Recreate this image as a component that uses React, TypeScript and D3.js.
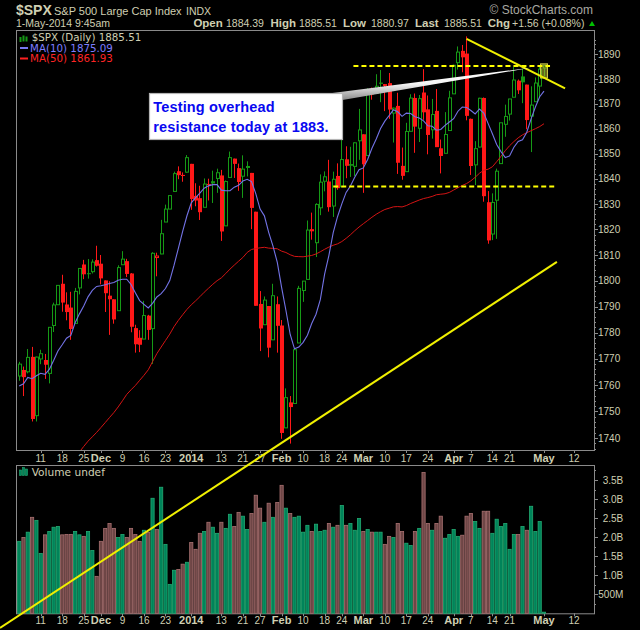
import React from 'react';
import * as d3 from 'd3';

const width = 640;
const height = 630;
const frame = { left: 16, right: 594, priceTop: 30, priceBottom: 450, volTop: 465, volBottom: 613.3 };

const sans = '"Liberation Sans", Arial, sans-serif';
const legendFont = '"DejaVu Sans", Verdana, sans-serif';
const textColor = '#cfcfb2';
const green = '#169a16';
const red = '#ff1818';

// closes before the visible window, only used to seed the moving averages
const priorCloses = [
  1656.78, 1630.48, 1634.96, 1638.17, 1632.97,
  1639.77, 1653.08, 1655.08, 1655.17, 1671.71, 1683.99, 1689.13, 1683.42, 1687.99, 1697.6,
  1704.76, 1725.52, 1722.34, 1709.91, 1701.84, 1697.42, 1692.77, 1698.67, 1691.75, 1681.55,
  1695.0, 1693.87, 1678.66, 1690.5, 1676.12, 1655.45, 1656.4, 1692.56, 1703.2, 1710.14, 1698.06,
  1721.54, 1733.15, 1744.5, 1744.66, 1754.67, 1746.38, 1752.07, 1759.77, 1762.11, 1771.95,
  1763.31, 1756.54, 1761.64,
];

// daily OHLC, Nov 4 2013 .. May 1 2014
const opens = [
  1763.4, 1765.7, 1765.0, 1770.7, 1748.4, 1769.9, 1769.5, 1764.4, 1782.7, 1790.7, 1798.8, 1790.8, 1789.6, 1783.5, 1797.2, 1806.3, 1802.9, 1803.5, 1808.0,
  1806.6, 1800.1, 1794.2, 1792.8, 1788.4, 1806.2, 1807.6, 1802.8, 1781.7, 1777.98, 1777.5, 1786.5, 1781.5, 1809.0, 1810.4, 1822.9, 1828.0, 1834.96, 1842.97, 1841.5, 1842.6,
  1845.9, 1833.2, 1832.3, 1828.7, 1837.9, 1839.0, 1840.1, 1841.3, 1821.4, 1840.5, 1847.99, 1844.2, 1841.0, 1844.7, 1842.3, 1826.96, 1791.0, 1783.0, 1790.2, 1777.2, 1790.9,
  1782.7, 1743.8, 1753.4, 1752.99, 1776.0, 1796.2, 1800.5, 1820.1, 1814.8, 1828.5, 1839.0, 1838.9, 1829.2, 1841.1, 1836.8, 1847.7, 1845.8, 1844.9, 1855.1,
  1857.7, 1849.2, 1874.1, 1874.2, 1878.5, 1877.9, 1878.3, 1866.2, 1869.1, 1845.1, 1842.8, 1858.9, 1872.3, 1860.1, 1874.5, 1867.7, 1859.5, 1867.1, 1852.1, 1850.1, 1859.2,
  1873.96, 1886.6, 1891.4, 1890.3, 1863.9, 1845.5, 1852.6, 1872.3, 1830.7, 1818.2, 1831.5, 1846.0, 1861.7, 1865.8, 1872.6, 1879.3, 1881.0, 1877.7, 1865.0, 1870.8, 1877.1,
  1884.39,
];
const highs = [
  1768.8, 1767.0, 1773.7, 1774.5, 1770.8, 1773.4, 1771.8, 1782.0, 1791.5, 1798.2, 1802.3, 1795.5, 1795.7, 1797.2, 1804.8, 1808.1, 1808.4, 1808.3, 1813.6,
  1810.0, 1800.1, 1799.8, 1792.8, 1806.0, 1811.5, 1808.5, 1802.97, 1782.99, 1780.9, 1792.2, 1786.8, 1811.1, 1810.9, 1823.75, 1829.75, 1833.3, 1842.8, 1844.9, 1842.5, 1849.4,
  1845.9, 1838.2, 1837.2, 1840.1, 1840.0, 1843.2, 1843.98, 1843.5, 1839.3, 1850.8, 1847.99, 1846.0, 1849.3, 1846.9, 1842.3, 1826.96, 1795.98, 1793.9, 1790.2, 1798.8, 1793.9,
  1784.8, 1758.7, 1755.8, 1774.1, 1798.0, 1799.9, 1823.5, 1826.6, 1830.3, 1841.7, 1842.9, 1847.5, 1842.8, 1846.1, 1858.7, 1852.9, 1852.7, 1854.5, 1867.9,
  1857.7, 1876.2, 1876.5, 1881.9, 1883.6, 1877.9, 1882.4, 1868.4, 1874.4, 1852.4, 1862.3, 1873.8, 1874.1, 1873.5, 1883.97, 1873.3, 1871.9, 1875.9, 1855.6, 1866.6, 1875.2,
  1885.8, 1893.2, 1893.8, 1897.3, 1864.0, 1854.95, 1872.4, 1872.5, 1835.1, 1834.2, 1844.0, 1862.3, 1869.6, 1871.9, 1884.9, 1879.75, 1884.1, 1877.7, 1877.0, 1880.6, 1885.2,
  1885.51,
];
const lows = [
  1761.6, 1755.8, 1764.4, 1746.2, 1746.2, 1767.9, 1762.3, 1760.6, 1780.2, 1790.7, 1788.0, 1784.7, 1777.2, 1783.5, 1794.7, 1800.6, 1800.8, 1802.8, 1805.5,
  1798.6, 1787.9, 1779.1, 1783.4, 1788.4, 1806.2, 1801.4, 1780.1, 1772.3, 1772.5, 1777.5, 1777.2, 1767.99, 1801.7, 1810.3, 1822.9, 1828.0, 1834.96, 1839.8, 1838.8, 1842.4,
  1827.7, 1829.1, 1823.7, 1828.7, 1831.4, 1830.4, 1834.4, 1815.5, 1821.4, 1840.5, 1840.3, 1835.2, 1832.4, 1840.9, 1820.1, 1790.3, 1772.9, 1783.0, 1770.5, 1777.2, 1772.3,
  1739.7, 1743.8, 1737.9, 1752.99, 1776.0, 1791.8, 1800.5, 1815.97, 1809.2, 1825.6, 1835.0, 1826.99, 1824.9, 1835.6, 1836.8, 1840.2, 1840.7, 1841.1, 1847.5,
  1834.4, 1849.2, 1871.6, 1874.2, 1870.6, 1867.0, 1863.9, 1854.4, 1841.9, 1839.6, 1842.8, 1858.9, 1850.3, 1854.6, 1863.5, 1849.7, 1855.96, 1852.6, 1842.1, 1850.1, 1859.2,
  1873.96, 1883.8, 1882.7, 1863.3, 1841.5, 1837.5, 1852.4, 1830.9, 1814.4, 1815.8, 1816.3, 1846.0, 1856.7, 1863.2, 1872.6, 1873.9, 1870.2, 1859.7, 1850.6, 1870.8, 1872.7,
  1880.97,
];
const closes = [
  1767.93, 1762.97, 1770.49, 1747.15, 1770.61, 1771.89, 1767.69, 1782.0, 1790.62, 1798.18, 1791.53, 1787.87, 1781.37, 1795.85, 1804.76, 1802.48, 1802.75, 1807.23, 1805.81,
  1800.9, 1795.15, 1792.81, 1785.03, 1805.09, 1808.37, 1802.62, 1782.22, 1775.5, 1775.32, 1786.54, 1781.0, 1810.65, 1809.6, 1818.32, 1827.99, 1833.32, 1842.02, 1841.4, 1841.07, 1848.36,
  1831.98, 1831.37, 1826.77, 1837.88, 1837.49, 1838.13, 1842.37, 1819.2, 1838.88, 1848.38, 1845.89, 1838.7, 1843.8, 1844.86, 1828.46, 1790.29, 1781.56, 1792.5, 1774.2, 1794.19, 1782.59,
  1741.89, 1755.2, 1751.64, 1773.43, 1797.02, 1799.84, 1819.75, 1819.26, 1829.83, 1838.63, 1840.76, 1828.75, 1839.78, 1836.25, 1847.61, 1845.12, 1845.16, 1854.29, 1859.45,
  1845.73, 1873.91, 1873.81, 1877.03, 1878.04, 1877.17, 1867.63, 1868.2, 1846.34, 1841.13, 1858.83, 1872.25, 1860.77, 1872.01, 1866.52, 1857.44, 1865.62, 1852.56, 1849.04, 1857.62, 1872.34,
  1885.52, 1890.9, 1888.77, 1865.09, 1845.04, 1851.96, 1872.18, 1833.08, 1815.69, 1830.61, 1842.98, 1862.31, 1864.85, 1871.89, 1879.55, 1875.39, 1878.61, 1863.4, 1869.43, 1878.33, 1883.95,
  1885.51,
];
// volume in billions of shares
const volumes = [
  1.89, 1.99, 2.13, 2.52, 2.44, 1.57, 2.06, 2.15, 2.26, 2.28, 2.06, 2.07, 2.07, 2.15, 2.06, 2.02, 2.15, 1.65, 0.97,
  1.89, 2.23, 2.36, 2.23, 1.99, 2.07, 1.99, 2.23, 2.07, 1.89, 2.18, 2.13, 3.02, 2.2, 3.31, 1.81, 0.76, 1.13, 1.15, 1.29, 1.34,
  1.86, 1.68, 2.1, 2.15, 2.39, 2.26, 2.1, 2.39, 2.23, 2.6, 2.28, 2.65, 2.55, 2.2, 2.62, 3.1, 2.76, 2.39, 2.89, 2.52, 2.91,
  3.36, 2.76, 2.62, 2.52, 2.55, 2.13, 2.31, 2.15, 2.34, 2.15, 2.18, 2.36, 2.26, 2.31, 2.83, 2.31, 2.36, 2.18, 2.49,
  2.15, 2.2, 2.13, 2.13, 2.13, 1.81, 2.02, 1.99, 2.36, 2.15, 1.84, 1.78, 2.15, 2.23, 3.7, 2.36, 2.18, 2.36, 2.55, 1.97, 2.07,
  2.2, 2.02, 2.05, 2.55, 2.62, 2.41, 2.23, 2.68, 2.68, 2.1, 2.47, 2.28, 2.36, 1.68, 2.07, 2.07, 2.28, 2.18, 2.81, 2.15, 2.41,
  0.03,
];

const holidays = ['2013-11-28', '2013-12-25', '2014-01-01', '2014-01-20', '2014-02-17', '2014-04-18'];
const dateTicks = [
  ['2013-11-11', '11'], ['2013-11-18', '18'], ['2013-11-25', '25'], ['2013-12-02', 'Dec'], ['2013-12-09', '9'],
  ['2013-12-16', '16'], ['2013-12-23', '23'], ['2014-01-02', '2014'], ['2014-01-13', '13'], ['2014-01-21', '21'],
  ['2014-01-27', '27'], ['2014-02-03', 'Feb'], ['2014-02-10', '10'], ['2014-02-18', '18'], ['2014-02-24', '24'],
  ['2014-03-03', 'Mar'], ['2014-03-10', '10'], ['2014-03-17', '17'], ['2014-03-24', '24'], ['2014-04-01', 'Apr'],
  ['2014-04-07', '7'], ['2014-04-14', '14'], ['2014-04-21', '21'], ['2014-05-01', 'May'], ['2014-05-12', '12'],
];
const boldLabels = ['Dec', '2014', 'Feb', 'Mar', 'Apr', 'May'];
const priceTicks = [1740, 1750, 1760, 1770, 1780, 1790, 1800, 1810, 1820, 1830, 1840, 1850, 1860, 1870, 1880, 1890];
const volumeTicks = [0.5, 1.0, 1.5, 2.0, 2.5, 3.0, 3.5];
const volumeTickLabels = ['500M', '1.0B', '1.5B', '2.0B', '2.5B', '3.0B', '3.5B'];

// drawn annotations: [trading day index, price]
const resistance = [[77.7, 1885.2], [123.4, 1885.2]];
const support = [[73.0, 1836.9], [124.9, 1836.9]];
const downTrend = [[104.0, 1896.3], [126.9, 1876.2]];
const upTrend = [[-4.46, 1670.2], [125.0, 1807.3]];
const calloutTip = [119.2, 1884.6];
const calloutLines = ['Testing overhead', 'resistance today at 1883.'];

const fmt = d3.utcFormat('%Y-%m-%d');
const tradingDays = d3.utcDay
  .range(new Date(Date.UTC(2013, 10, 4)), new Date(Date.UTC(2014, 4, 13)))
  .filter((d) => d.getUTCDay() !== 0 && d.getUTCDay() !== 6 && !holidays.includes(fmt(d)))
  .map(fmt);

const allCloses = [...priorCloses, ...closes];
const sma = (n: number) =>
  closes.map((_, i) => d3.mean(allCloses.slice(i + priorCloses.length - n + 1, i + priorCloses.length + 1)) as number);

export default function App() {
  const x = d3.scaleLinear().domain([0, closes.length - 1]).range([19.2, 544]);
  const y = d3.scaleLog().domain([1740, 1890]).range([438, 54.3]);
  const yVol = d3.scaleLinear().domain([0, 3.5]).range([frame.volBottom, 480]);

  const ma10 = sma(10);
  const ma50 = sma(50);
  const maLine = d3.line<number>().x((_, i) => x(i)).y((d) => y(d));

  const minorPrice = d3.range(1736, 1898, 2).filter((p) => y(p) > frame.priceTop && y(p) < frame.priceBottom);
  const minorVol = d3.range(0.25, 3.9, 0.25);

  const seg = (pts: number[][], props: any) => (
    <line x1={x(pts[0][0])} y1={y(pts[0][1])} x2={x(pts[1][0])} y2={y(pts[1][1])} {...props} />
  );

  const tipX = x(calloutTip[0]);
  const tipY = y(calloutTip[1]);
  const box = { x: 149.5, y: 93.5, w: 193, h: 46 };

  const lastI = closes.length - 1;
  const lastP = Math.floor(x(lastI));

  return (
    <svg width={width} height={height} style={{ position: 'absolute', left: 0, top: 0, background: '#000' }}>
      <defs>
        <clipPath id="priceClip">
          <rect x={frame.left} y={frame.priceTop} width={frame.right - frame.left} height={frame.priceBottom - frame.priceTop} />
        </clipPath>
        <linearGradient id="wedge" x1="0" y1="0" x2="0" y2="1">
          <stop offset="0" stopColor="#ffffff" />
          <stop offset="0.5" stopColor="#f4f4f4" />
          <stop offset="1" stopColor="#8a8a8a" />
        </linearGradient>
      </defs>
      <rect width={width} height={height} fill="#000" />

      {/* header */}
      <text x={16} y={15} fontFamily={sans} fontWeight="bold" fontSize={14} fill={textColor}>$SPX</text>
      <text x={54} y={15} fontFamily={sans} fontSize={11} fill={textColor}>S&amp;P 500 Large Cap Index</text>
      <text x={186} y={15} fontFamily={sans} fontSize={10.5} fill={textColor}>INDX</text>
      <text x={593} y={14} textAnchor="end" fontFamily={sans} fontSize={12} fill="#a8a8a0">© StockCharts.com</text>
      <text x={16} y={27} fontFamily={sans} fontSize={10.5} fill={textColor}>1-May-2014 9:45am</text>
      {[
        ['Open', 193.4, true], ['1884.39', 226, false], ['High', 270.5, true], ['1885.51', 299, false],
        ['Low', 343, true], ['1880.97', 371, false], ['Last', 415, true], ['1885.51', 444, false],
        ['Chg', 487.7, true], ['+1.56 (+0.08%)', 512, false],
      ].map(([t, px, b]) => (
        <text key={`${t}${px}`} x={px as number} y={27} fontFamily={sans} fontSize={b ? 11.5 : 10.5}
          fontWeight={b ? 'bold' : 'normal'} fill={textColor}>{t as string}</text>
      ))}
      <path d="M589,26 L595,26 L592,21 Z" fill="#00c000" />

      {/* panel frames */}
      <rect x={frame.left + 0.5} y={frame.priceTop + 0.5} width={frame.right - frame.left} height={frame.priceBottom - frame.priceTop}
        fill="none" stroke="#8a8a8a" />
      <rect x={frame.left + 0.5} y={frame.volTop + 0.5} width={frame.right - frame.left} height={frame.volBottom - frame.volTop}
        fill="none" stroke="#8a8a8a" />

      {/* price axis */}
      {minorPrice.map((p) => (
        <line key={`mp${p}`} x1={frame.right} x2={frame.right + (p % 10 === 0 ? 4 : 2)} y1={Math.round(y(p)) + 0.5}
          y2={Math.round(y(p)) + 0.5} stroke="#8a8a8a" />
      ))}
      {priceTicks.map((p) => (
        <text key={`pt${p}`} x={598} y={y(p) + 3.6} fontFamily={sans} fontSize={10} fill={textColor}>{p}</text>
      ))}

      {/* volume axis */}
      {minorVol.map((v) => (
        <line key={`mv${v}`} x1={frame.right} x2={frame.right + (Math.abs(v * 2 - Math.round(v * 2)) < 0.01 ? 4 : 2)}
          y1={Math.round(yVol(v)) + 0.5} y2={Math.round(yVol(v)) + 0.5} stroke="#8a8a8a" />
      ))}
      {volumeTicks.map((v, k) => (
        <text key={`vt${v}`} x={623.3} y={yVol(v) + 3.6} textAnchor="end" fontFamily={sans} fontSize={10} fill={textColor}>
          {volumeTickLabels[k]}
        </text>
      ))}

      {/* date axes */}
      {dateTicks.map(([d, label]) => {
        const xi = x(tradingDays.indexOf(d));
        const bold = boldLabels.includes(label);
        return (
          <g key={d}>
            <line x1={Math.round(xi) + 0.5} x2={Math.round(xi) + 0.5} y1={frame.priceBottom} y2={frame.priceBottom + 3} stroke="#8a8a8a" />
            <line x1={Math.round(xi) + 0.5} x2={Math.round(xi) + 0.5} y1={frame.volBottom} y2={frame.volBottom + 3} stroke="#8a8a8a" />
            {[461.5, 624].map((ty) => (
              <text key={ty} x={xi} y={ty} textAnchor="middle" fontFamily={sans} fontSize={bold ? 11 : 10}
                fontWeight={bold ? 'bold' : 'normal'} fill={textColor}>{label}</text>
            ))}
          </g>
        );
      })}

      {/* candles */}
      <g clipPath="url(#priceClip)">
        {closes.map((c, i) => {
          const o = opens[i];
          const prev = i === 0 ? priorCloses[priorCloses.length - 1] : closes[i - 1];
          const color = c >= prev ? green : red;
          const p = Math.floor(x(i));
          const yTop = y(Math.max(o, c));
          const bh = Math.max(1, y(Math.min(o, c)) - yTop);
          return (
            <g key={i}>
              <line x1={p + 0.5} x2={p + 0.5} y1={y(highs[i])} y2={y(lows[i])} stroke={color} />
              {c > o
                ? <rect x={p - 0.5} y={yTop} width={3} height={bh} fill="#000" stroke={color} />
                : <rect x={p - 1} y={yTop} width={4} height={bh} fill={color} />}
            </g>
          );
        })}
        <path d={maLine(ma50) as string} fill="none" stroke="#d41414" strokeWidth={1} />
        <path d={maLine(ma10) as string} fill="none" stroke="#7373e6" strokeWidth={1.1} />
        <rect x={lastP - 3.5} y={y(highs[lastI]) - 1.5} width={7} height={y(lows[lastI]) - y(highs[lastI]) + 3}
          fill="rgba(190,190,50,0.55)" stroke="#c8c848" />
      </g>

      {/* volume bars */}
      {volumes.map((v, i) => {
        const prev = i === 0 ? priorCloses[priorCloses.length - 1] : closes[i - 1];
        const up = closes[i] >= prev;
        const top = yVol(v);
        return (
          <rect key={`v${i}`} x={x(i) - 1.6} y={top} width={3.2} height={frame.volBottom - top}
            fill={up ? '#00845a' : '#6e4646'} stroke={up ? '#22aa72' : '#a87070'} strokeWidth={0.8} />
        );
      })}

      {/* legends */}
      <g fill={green}>
        <rect x={19.5} y={37} width={2} height={5} />
        <rect x={22.5} y={35.5} width={2} height={6} />
        <rect x={25.5} y={36.5} width={2} height={5} />
      </g>
      <text x={31.7} y={40.5} fontFamily={legendFont} fontSize={10.3} fill={textColor}>$SPX (Daily) 1885.51</text>
      <line x1={20} x2={28} y1={48} y2={48} stroke="#7878f0" strokeWidth={2} />
      <text x={30} y={51.5} fontFamily={legendFont} fontSize={10.3} fill="#7d7dff">MA(10) 1875.09</text>
      <line x1={20} x2={28} y1={58.5} y2={58.5} stroke="#ff2020" strokeWidth={2} />
      <text x={30} y={62.3} fontFamily={legendFont} fontSize={10.3} fill="#ff2424">MA(50) 1861.93</text>
      <g fill="#00845a" stroke="#22aa72" strokeWidth={0.6}>
        <rect x={19.5} y={470} width={2} height={5.5} />
        <rect x={22.5} y={467.5} width={2} height={8} />
        <rect x={25.5} y={469} width={2} height={6.5} />
      </g>
      <text x={31.7} y={475.7} fontFamily={legendFont} fontSize={10.6} fill={textColor}>Volume undef</text>

      {/* drawn lines */}
      {seg(resistance, { stroke: '#ffff00', strokeWidth: 2, strokeDasharray: '5,3' })}
      {seg(support, { stroke: '#ffff00', strokeWidth: 2, strokeDasharray: '5,3' })}
      {seg(downTrend, { stroke: '#f0f000', strokeWidth: 2 })}
      {seg(upTrend, { stroke: '#f0f000', strokeWidth: 2 })}

      {/* callout */}
      <polygon points={`${box.x + box.w - 14},${box.y} ${tipX},${tipY} ${box.x + box.w},${box.y + 6.5} ${box.x + box.w},${box.y}`}
        fill="url(#wedge)" />
      <rect x={box.x} y={box.y} width={box.w} height={box.h} fill="#fff" stroke="#b4b4b4" strokeWidth={1.2} />
      {calloutLines.map((t, k) => (
        <text key={t} x={153.3} y={112.3 + k * 20} fontFamily={sans} fontWeight="bold" fontSize={14.5}
          letterSpacing={0.15} fill="#0808f0">{t}</text>
      ))}
    </svg>
  );
}
